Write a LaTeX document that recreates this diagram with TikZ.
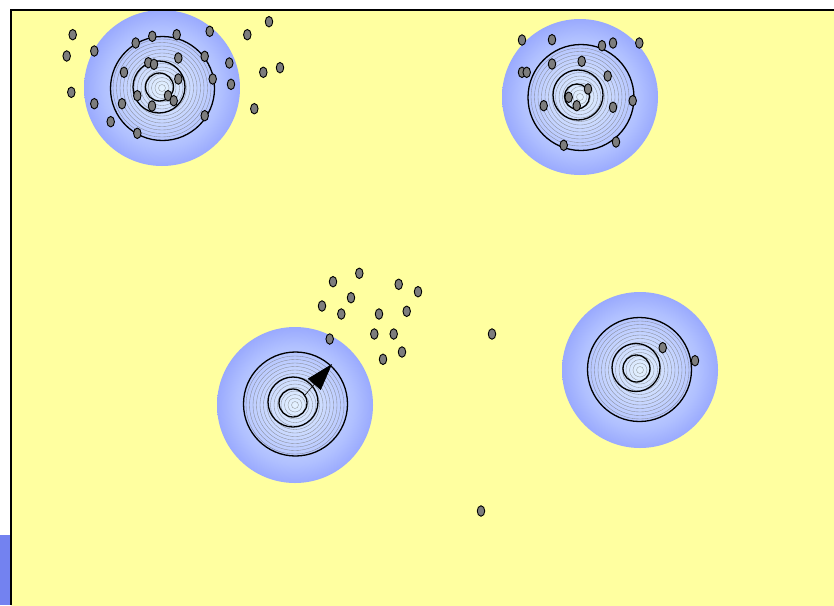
\documentclass[tikz,border=0pt]{standalone}
\usepackage{xcolor}
\usepackage{tikz}
\usetikzlibrary{shapes,arrows.meta,positioning}
\definecolor{fieldyellow}{RGB}{255,255,160}
\definecolor{stripblue}{RGB}{115,130,240}
\definecolor{tedge}{RGB}{124,140,252}
\definecolor{tmid}{RGB}{176,192,255}
\definecolor{tcenter}{RGB}{228,242,255}
\definecolor{dotgray}{RGB}{125,125,125}
\pgfdeclareradialshading{targetshade}{\pgfpoint{0bp}{0bp}}{color(0bp)=(tcenter); color(19bp)=(tmid); color(33bp)=(tedge); color(50bp)=(tedge)}

\begin{document}
\begin{tikzpicture}[x=1pt,y=-1pt,
  dot/.style={ellipse,draw=black,fill=dotgray,minimum width=7.5pt,minimum height=10.5pt,inner sep=0pt,line width=0.9pt},
  thickring/.style={draw=black,line width=1.3pt},
  thinring/.style={draw=black!55,line width=0.35pt,opacity=0.75},
  pointer/.style={-{Triangle[length=27pt,width=17pt]},line width=0.6pt,draw=black}]
  \useasboundingbox (0,0) rectangle (834,605);
  \clip (0,0) rectangle (834,605);
  % field
  \fill[fieldyellow] (11,10) rectangle (840,612);
  \fill[stripblue] (0,535) rectangle (10,605);
  % targets: disc centre / rings centre / middle / inner radius
  \foreach \cx/\cy/\ox/\oy/\ro/\mx/\my/\rm/\ix/\iy/\ri in
    {162/88/162.5/88.5/52/159/87/26/159.5/87/14,
     580/97/581/97.5/53/578/95/25/577/96.5/12.5,
     295/405/295.5/404/52/293/402/25/293/403/14,
     640/370/639.5/369.5/52/636/367.5/24/636.5/368.5/13.5}
  {
    \shade[shading=targetshade] (\cx,\cy) circle[radius=78pt];
    \foreach \r in {3.5,7,...,49}
      \draw[thinring] (\cx,\cy) circle[radius=\r pt];
    \draw[thickring] (\ox,\oy) circle[radius=\ro pt];
    \draw[thickring] (\mx,\my) circle[radius=\rm pt];
    \draw[thickring] (\ix,\iy) circle[radius=\ri pt];
  }
  % pointer
  \coordinate (tail) at (305,395);
  \coordinate (tip) at (332,364);
  \draw[pointer] (tail) -- (tip);
  % hits
  \foreach \x/\y [count=\i] in
    {72.7/34.7, 66.7/56, 94.3/51, 71.3/92.3, 94.3/103.7, 110.7/121.7,
     135.7/43, 152.3/36.3, 176.7/34.7, 209.7/31.3, 247.3/34.7, 269/21.7,
     204.7/56.3, 229.3/63, 212.7/79, 231/84.3, 263.3/72.3, 280/67.7,
     254.3/108.7, 124/72.3, 148.3/62.7, 154/64.3, 178.3/58, 178.3/79,
     122/103.7, 137.3/95.7, 152/106, 168/95.7, 173.7/100.7, 204.7/115.7,
     137.3/133.3,
     522/40, 552/39.7, 602/45.7, 613/43, 639.3/43, 522/72.3, 526.7/72.3,
     552/64, 581.7/61.3, 607.7/76, 588/89, 568.7/97.3, 576.7/105.7,
     543.7/105.7, 613/107.3, 632.7/100.7, 563.7/145.3, 616/142,
     333/281.7, 359.3/273.3, 398.7/284.3, 418/291.7, 351/297.7, 322/306,
     341.3/314, 379/314, 406.7/311.3, 374.3/334, 393.7/334, 329.7/339,
     402/352, 383/359.3,
     492/334, 481/511, 662.7/347.7, 695/360.7}
    \node[dot] (hit\i) at (\x,\y) {};
  % frame
  \draw[line width=1.6pt] (11,605) -- (11,10) -- (840,10);
\end{tikzpicture}
\end{document}
